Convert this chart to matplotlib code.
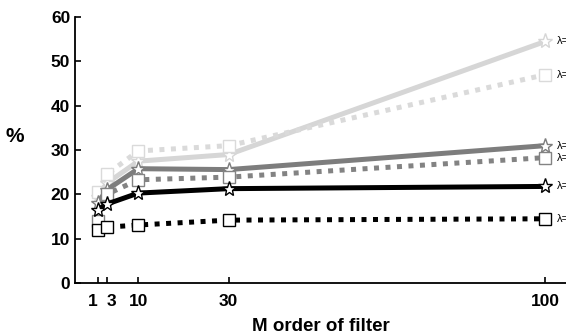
import matplotlib
matplotlib.use("Agg")
import matplotlib.pyplot as plt

plt.rcParams["font.family"] = ["Liberation Sans", "DejaVu Sans"]

# filter order M
m_order = [1, 3, 10, 30, 100]

# error rates (%) per curve, top to bottom at M=100
light_star = [19.5, 22.5, 27.5, 29.0, 54.5]
light_square = [20.5, 24.5, 29.8, 31.0, 47.0]
dark_star = [18.0, 21.0, 25.8, 25.6, 31.0]
dark_square = [14.0, 20.0, 23.3, 23.9, 28.3]
black_star = [16.5, 17.8, 20.3, 21.3, 21.8]
black_square = [12.0, 12.6, 13.1, 14.2, 14.5]

labels = ["λ=1", "λ=1", "λ=2", "λ=2", "λ=3", "λ=3"]
xticks = [1, 3, 10, 30, 100]
yticks = [0, 10, 20, 30, 40, 50, 60]

series = [
    (light_star, "#d6d6d6", "-", "*"),
    (light_square, "#dadada", (0, (1, 1.3)), "s"),
    (dark_star, "#7d7d7d", "-", "*"),
    (dark_square, "#838383", (0, (1, 1.3)), "s"),
    (black_star, "#000000", "-", "*"),
    (black_square, "#000000", (0, (1, 1.3)), "s"),
]

fig = plt.figure(figsize=(5.66, 3.35), dpi=100)
ax = fig.add_axes([0.1325, 0.155, 0.8675, 0.794])

for (vals, col, ls, mk), lab in zip(series, labels):
    ax.plot(m_order, vals, color=col, linestyle=ls, linewidth=3.6,
            dash_capstyle="butt", solid_capstyle="butt")
    ax.plot(m_order, vals, linestyle="none", marker=mk,
            markersize=11 if mk == "*" else 8.5,
            markerfacecolor="white", markeredgecolor=col, markeredgewidth=1.0)
    ax.text(102.6, vals[-1], lab, fontsize=8, va="center", ha="left",
            clip_on=False)

ax.set_xlim(-4, 104.6)
ax.set_ylim(0, 60)
ax.set_xticks(xticks)
ax.set_xticklabels(["1", "3", "10", "30", "100"])
ax.set_yticks(yticks)
ax.tick_params(direction="in", length=4, width=1.2, labelsize=12.5)
ax.tick_params(axis="x", pad=8)
for lbl in ax.get_xticklabels() + ax.get_yticklabels():
    lbl.set_fontweight("bold")
xl = ax.get_xticklabels()
xl[0].set_horizontalalignment("right")
xl[0].set_x(2.1)
xl[1].set_horizontalalignment("left")
xl[1].set_x(2.1)
ax.spines["top"].set_visible(False)
ax.spines["right"].set_visible(False)
ax.spines["left"].set_linewidth(1.3)
ax.spines["bottom"].set_linewidth(1.3)

ax.set_xlabel("M order of filter", fontsize=13.5, fontweight="bold", labelpad=6)
fig.text(15 / 566, 1 - 137 / 335, "%", fontsize=15, fontweight="bold",
         ha="center", va="center")

fig.savefig("out.png", dpi=100)
